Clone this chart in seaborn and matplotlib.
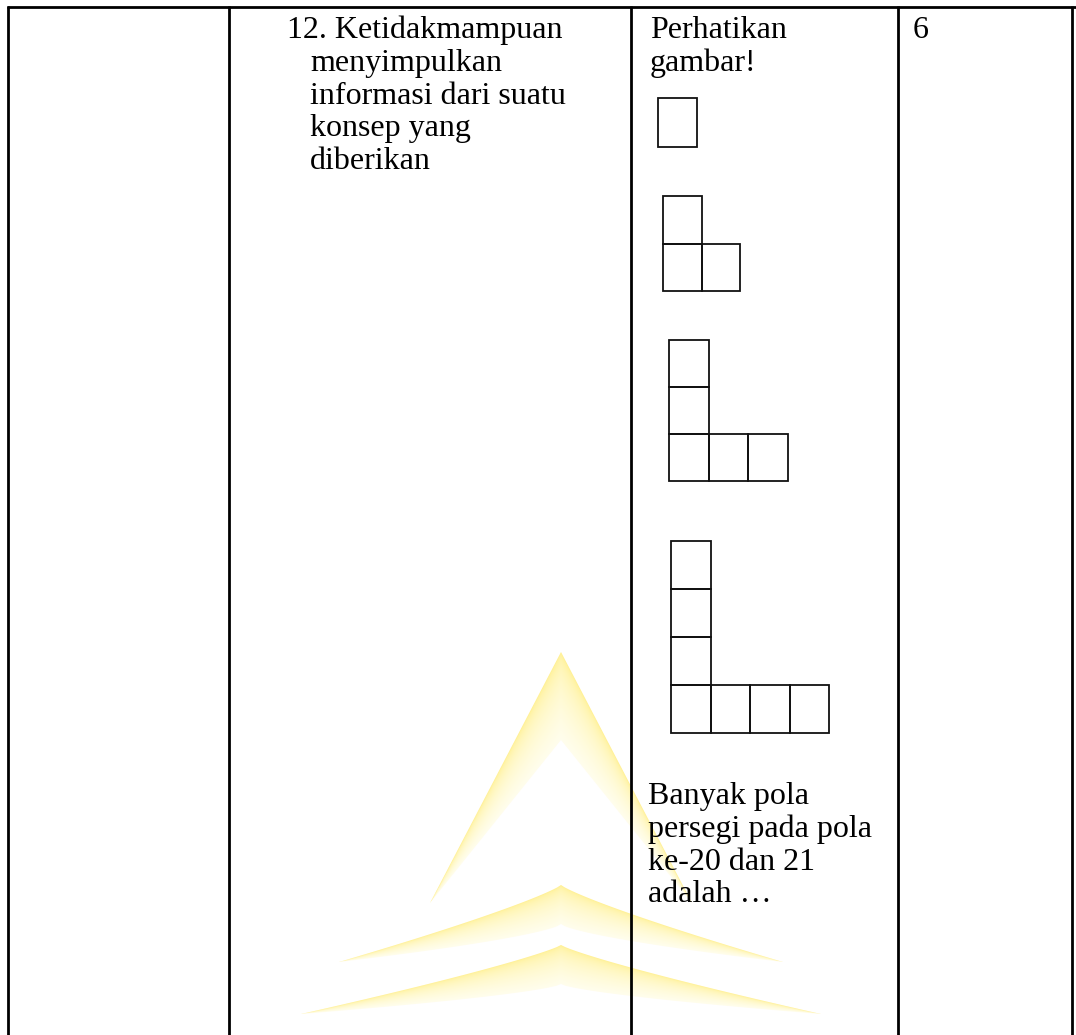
#!/usr/bin/env python3
# table row with growing L-shaped square pattern + faint watermark

import numpy as np
import seaborn as sns
import matplotlib.pyplot as plt
from matplotlib.patches import Rectangle, Polygon

# ---- data ----
PATTERN_NO  = [1, 2, 3, 4]
VERT_COUNT  = [1, 2, 3, 4]       # squares in the upright column
HORIZ_COUNT = [0, 1, 2, 3]       # extra squares to the right of the corner

COL2_LINES   = ["12. Ketidakmampuan", "menyimpulkan", "informasi dari suatu",
                "konsep yang", "diberikan"]
COL3_TOP     = ["Perhatikan", "gambar!"]
COL3_BOTTOM  = ["Banyak pola", "persegi pada pola", "ke-20 dan 21", "adalah \u2026"]
SCORE        = "6"

# ---- layout (pixels, y down) ----
W, H = 1076, 1035
COL_X   = [7.5, 229, 631, 898, 1072]
TOP_Y   = 7
ORIGINS = [(658, 146.5), (663, 291), (669, 481), (671, 733)]   # bottom-left of corner square
CELL_W  = [39, 38.5, 39.5, 39.5]
CELL_H  = [48.5, 47.5, 47, 48]
FS      = 23.0
LINE    = 32.8
SERIF   = ["Liberation Serif", "DejaVu Serif"]


def gradient_shape(ax, verts, field, c0, c1, gamma=0.45):
    """fill polygon with colour interpolated by field(x, y) in [0, 1]"""
    verts = np.asarray(verts)
    x0, y0 = verts.min(axis=0)
    x1, y1 = verts.max(axis=0)
    xs = np.linspace(x0, x1, 300)
    ys = np.linspace(y0, y1, 300)
    X, Y = np.meshgrid(xs, ys)
    f = np.clip(field(X, Y), 0, 1) ** gamma
    f = f[..., None]
    img = (1 - f) * np.array(c0) + f * np.array(c1)
    poly = Polygon(verts, closed=True, facecolor="none", edgecolor="none")
    ax.add_patch(poly)
    im = ax.imshow(img, extent=(x0, x1, y0, y1), origin="lower",
                   interpolation="bilinear", zorder=0, aspect="auto")
    im.set_clip_path(poly)


def watermark(ax):
    yel  = (1.0, 0.94, 0.56)
    pale = (1.0, 0.995, 0.93)
    cx = 561
    # chevron
    ap_o, ap_i = 652, 740
    tip_l, tip_r, tip_y = 430, 692, 903
    so = (tip_y - ap_o) / (cx - tip_l)
    si = (tip_y - ap_i) / (cx - tip_l)
    verts = [(cx, ap_o), (tip_r, tip_y), (cx, ap_i), (tip_l, tip_y)]
    def fchev(X, Y):
        d = np.abs(X - cx)
        yo = ap_o + so * d
        yi = ap_i + si * d
        return (Y - yo) / np.maximum(yi - yo, 1e-6)
    gradient_shape(ax, verts, fchev, yel, pale)

    # two swooshes
    for peak_t, peak_b, tip_y2, half in [(885, 924, 962, 222), (945, 984, 1014, 260)]:
        t = np.linspace(-1, 1, 121)
        top = peak_t + (tip_y2 - peak_t) * np.abs(t) ** 0.85
        bot = peak_b + (tip_y2 - peak_b) * np.abs(t) ** 0.7
        xs = cx + half * t
        verts = list(zip(xs, top)) + list(zip(xs[::-1], bot[::-1]))
        def fsw(X, Y, pt=peak_t, pb=peak_b, ty=tip_y2, hf=half):
            a = np.clip(np.abs(X - cx) / hf, 0, 1)
            yt = pt + (ty - pt) * a ** 0.85
            yb = pb + (ty - pb) * a ** 0.7
            return (Y - yt) / np.maximum(yb - yt, 1e-6)
        gradient_shape(ax, verts, fsw, yel, pale)


def draw_pattern(ax, k):
    x0, y0 = ORIGINS[k]
    w, h = CELL_W[k], CELL_H[k]
    for i in range(VERT_COUNT[k]):
        ax.add_patch(Rectangle((x0, y0 - (i + 1) * h), w, h, fill=False,
                               edgecolor="#111111", linewidth=1.3, zorder=3))
    for j in range(1, HORIZ_COUNT[k] + 1):
        ax.add_patch(Rectangle((x0 + j * w, y0 - h), w, h, fill=False,
                               edgecolor="#111111", linewidth=1.3, zorder=3))


def main():
    sns.set_theme(style="white")
    plt.rcParams["font.family"] = SERIF

    fig = plt.figure(figsize=(W / 100, H / 100), dpi=100)
    ax = fig.add_axes([0, 0, 1, 1])
    ax.set_xlim(0, W)
    ax.set_ylim(H, 0)
    ax.axis("off")

    watermark(ax)

    # table grid
    for x in COL_X:
        ax.plot([x, x], [TOP_Y - 1, H + 5], color="black", lw=2.0, zorder=4,
                solid_capstyle="butt")
    ax.plot([COL_X[0] - 1, W + 5], [TOP_Y, TOP_Y], color="black", lw=2.0, zorder=4,
            solid_capstyle="butt")

    txt = dict(fontsize=FS, color="black", va="baseline", ha="left", zorder=5)
    for i, s in enumerate(COL2_LINES):
        ax.text(287 if i == 0 else 310, 38 + i * LINE, s, **txt)
    for i, s in enumerate(COL3_TOP):
        ax.text(650, 38 + i * LINE, s, **txt)
    for i, s in enumerate(COL3_BOTTOM):
        ax.text(648, 804 + i * LINE, s, **txt)
    ax.text(913, 38, SCORE, **txt)

    for k in range(len(PATTERN_NO)):
        draw_pattern(ax, k)

    fig.savefig("out.png", dpi=100, facecolor="white")


if __name__ == "__main__":
    main()
